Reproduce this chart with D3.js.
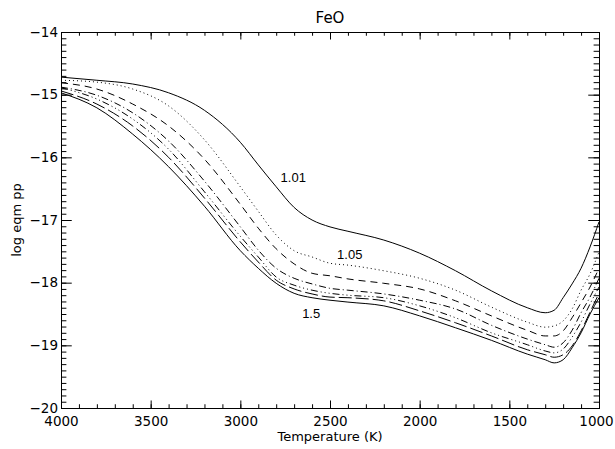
<!DOCTYPE html>
<html>
<head>
<meta charset="utf-8">
<script src="https://cdn.jsdelivr.net/npm/d3@7"></script>
<style>
  body { margin: 0; background: #fff; }
  .axis path, .axis line { stroke: #000; stroke-width: 1; }
  .axis text { font-family: "DejaVu Sans", sans-serif; font-size: 13.5px; fill: #000; }
</style>
</head>
<body>
<div id="container"></div>
<script>
// temperature grid (K)
const temps = [4000, 3800, 3600, 3400, 3200, 3000, 2900, 2800, 2700, 2600, 2500, 2400,
               2200, 2000, 1800, 1600, 1400, 1300, 1250, 1200, 1150, 1100, 1050, 1000];

// log eqm pp for each ratio curve
const ratios = ["1.01", "1.05", "1.1", "1.2", "1.3", "1.4", "1.5"];
const c101 = [-14.72, -14.77, -14.83, -14.97, -15.25, -15.76, -16.12, -16.47, -16.80, -17.00, -17.11, -17.18,
              -17.32, -17.53, -17.81, -18.13, -18.40, -18.48, -18.44, -18.24, -18.02, -17.77, -17.43, -17.03];
const c105 = [-14.77, -14.80, -14.91, -15.18, -15.72, -16.47, -16.86, -17.24, -17.49, -17.59, -17.69, -17.72,
              -17.81, -17.93, -18.12, -18.39, -18.63, -18.71, -18.69, -18.61, -18.42, -18.12, -17.86, -17.51];
const c110 = [-14.81, -14.91, -15.15, -15.50, -16.03, -16.75, -17.13, -17.46, -17.70, -17.85, -17.89, -17.94,
              -18.01, -18.10, -18.29, -18.53, -18.76, -18.85, -18.85, -18.77, -18.56, -18.32, -18.07, -17.77];
const c120 = [-14.88, -15.01, -15.29, -15.74, -16.38, -17.11, -17.48, -17.77, -17.93, -18.02, -18.09, -18.12,
              -18.18, -18.28, -18.42, -18.68, -18.90, -18.99, -19.03, -18.96, -18.76, -18.48, -18.23, -17.93];
const c130 = [-14.89, -15.07, -15.39, -15.87, -16.55, -17.26, -17.59, -17.91, -18.04, -18.12, -18.17, -18.20,
              -18.24, -18.37, -18.56, -18.80, -18.99, -19.09, -19.12, -19.06, -18.87, -18.63, -18.34, -18.07];
const c140 = [-14.94, -15.15, -15.50, -16.00, -16.65, -17.35, -17.67, -17.96, -18.10, -18.18, -18.23, -18.24,
              -18.29, -18.45, -18.64, -18.85, -19.07, -19.15, -19.19, -19.15, -19.01, -18.77, -18.47, -18.17];
const c150 = [-14.97, -15.21, -15.63, -16.15, -16.78, -17.49, -17.77, -18.01, -18.17, -18.24, -18.28, -18.31,
              -18.37, -18.53, -18.72, -18.92, -19.14, -19.23, -19.28, -19.23, -19.04, -18.80, -18.50, -18.24];
const curves = [c101, c105, c110, c120, c130, c140, c150];

// IDL linestyles 0..5 then solid again
const dashes = [null, "1,3", "7,5", "7,3,1,3", "7,3,1,3,1,3,1,3", "13,4", null];

const xTicks = [4000, 3500, 3000, 2500, 2000, 1500, 1000];
const yTicks = [-14, -15, -16, -17, -18, -19, -20];

const width = 615, height = 449;
const margins = { top: 32, bottom: 41, left: 61, right: 16 };

const svg = d3.select("#container").append("svg")
    .attr("width", width).attr("height", height);

const xScale = d3.scaleLinear()
    .domain([4000, 1000])
    .range([margins.left, width - margins.right]);
const yScale = d3.scaleLinear()
    .domain([-20, -14])
    .range([height - margins.bottom, margins.top]);

const plotW = width - margins.left - margins.right;
const plotH = height - margins.top - margins.bottom;
const xLen = 0.02 * plotH, yLen = 0.02 * plotW;
const xMinor = d3.range(4000, 999, -100);
const yMinor = d3.range(-20, -13.95, 0.1);
const fmt = d => (d < 0 ? "\u2212" + Math.abs(d) : "" + d);

// bottom
svg.append("g").attr("class", "axis")
    .attr("transform", `translate(0,${height - margins.bottom})`)
    .call(d3.axisBottom(xScale).tickValues(xMinor).tickSize(-xLen / 2).tickFormat(""));
const xAx = svg.append("g").attr("class", "axis")
    .attr("transform", `translate(0,${height - margins.bottom})`)
    .call(d3.axisBottom(xScale).tickValues(xTicks).tickSize(-xLen).tickPadding(8).tickFormat(d => d));
// keep the last label inside the window
xAx.selectAll(".tick text").filter(d => d === 1000).attr("dx", -3);
// top
svg.append("g").attr("class", "axis")
    .attr("transform", `translate(0,${margins.top})`)
    .call(d3.axisTop(xScale).tickValues(xMinor).tickSize(-xLen / 2).tickFormat(""));
svg.append("g").attr("class", "axis")
    .attr("transform", `translate(0,${margins.top})`)
    .call(d3.axisTop(xScale).tickValues(xTicks).tickSize(-xLen).tickFormat(""));
// left
svg.append("g").attr("class", "axis")
    .attr("transform", `translate(${margins.left},0)`)
    .call(d3.axisLeft(yScale).tickValues(yMinor).tickSize(-yLen / 2).tickFormat(""));
svg.append("g").attr("class", "axis")
    .attr("transform", `translate(${margins.left},0)`)
    .call(d3.axisLeft(yScale).tickValues(yTicks).tickSize(-yLen).tickPadding(3).tickFormat(fmt));
// right
svg.append("g").attr("class", "axis")
    .attr("transform", `translate(${width - margins.right},0)`)
    .call(d3.axisRight(yScale).tickValues(yMinor).tickSize(-yLen / 2).tickFormat(""));
svg.append("g").attr("class", "axis")
    .attr("transform", `translate(${width - margins.right},0)`)
    .call(d3.axisRight(yScale).tickValues(yTicks).tickSize(-yLen).tickFormat(""));

svg.selectAll(".axis .domain").attr("stroke-width", 1.3);

const line = d3.line()
    .x((d, i) => xScale(temps[i]))
    .y(d => yScale(d))
    .curve(d3.curveMonotoneX);

svg.append("g")
    .selectAll("path")
    .data(curves)
    .enter()
    .append("path")
    .attr("d", line)
    .attr("fill", "none")
    .attr("stroke", "#000")
    .attr("stroke-width", 1)
    .attr("stroke-dasharray", (d, i) => dashes[i]);

// curve labels
const labelFont = '"Liberation Sans", Helvetica, sans-serif';
const labels = [
    { text: ratios[0], T: 2705, v: -16.40 },
    { text: ratios[1], T: 2390, v: -17.62 },
    { text: ratios[6], T: 2605, v: -18.57 }
];
svg.append("g").selectAll("text")
    .data(labels)
    .enter()
    .append("text")
    .attr("x", d => xScale(d.T))
    .attr("y", d => yScale(d.v))
    .attr("text-anchor", "middle")
    .style("font-family", labelFont)
    .style("font-size", "13px")
    .text(d => d.text);

svg.append("text")
    .attr("x", (margins.left + width - margins.right) / 2)
    .attr("y", 23)
    .attr("text-anchor", "middle")
    .style("font-family", '"DejaVu Sans", sans-serif')
    .style("font-size", "15px")
    .text("FeO");

svg.append("text")
    .attr("x", (margins.left + width - margins.right) / 2)
    .attr("y", 441)
    .attr("text-anchor", "middle")
    .style("font-family", '"DejaVu Sans", sans-serif')
    .style("font-size", "13px")
    .text("Temperature (K)");

svg.append("text")
    .attr("text-anchor", "middle")
    .attr("transform", `translate(21,${(margins.top + height - margins.bottom) / 2})rotate(-90)`)
    .style("font-family", '"DejaVu Sans", sans-serif')
    .style("font-size", "13px")
    .text("log eqm pp");
</script>
</body>
</html>
